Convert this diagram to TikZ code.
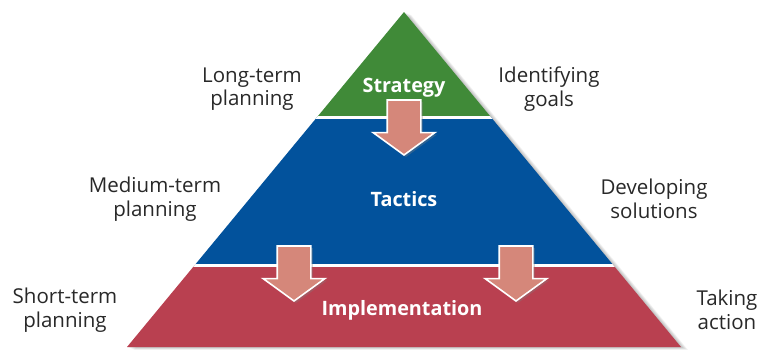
\documentclass[tikz,border=0pt]{standalone}
\usepackage{fontspec}
\setmainfont{Open Sans}
\usepackage{tikz}
\usetikzlibrary{shapes.arrows}
\usetikzlibrary{shadows}
\usetikzlibrary{positioning}
\definecolor{stratgreen}{RGB}{64,138,56}
\definecolor{tacblue}{RGB}{2,82,156}
\definecolor{implred}{RGB}{185,64,80}
\definecolor{arrowsalmon}{RGB}{213,135,122}
\definecolor{labelgray}{RGB}{40,40,40}
\tikzset{x=1pt,y=-1pt,
side text/.style={align=center,text=labelgray,font=\fontsize{20.5}{23.5}\selectfont},
layer text/.style={text=white,font=\bfseries\fontsize{19.8}{22}\selectfont},
down arrow/.style={single arrow,shape border rotate=270,fill=arrowsalmon,draw=white,line width=1.6pt,
  minimum height=55pt,inner xsep=16pt,inner ysep=0pt,single arrow head extend=14pt,single arrow tip angle=108,
  anchor=tip,drop shadow={shadow xshift=2pt,shadow yshift=-2pt,opacity=0.35}}}

\begin{document}
\begin{tikzpicture}
\useasboundingbox (0,0) rectangle (765,349);
\coordinate (apex) at (404,12);
\coordinate (bl) at (127,347);
\coordinate (br) at (681,347);

\foreach \s in {1,...,7}
  \fill[black,opacity=0.04] ([xshift=\s pt,yshift=-0.4*\s pt]apex) -- ([xshift=\s pt,yshift=-0.4*\s pt]bl) -- ([xshift=\s pt,yshift=-0.4*\s pt]br) -- cycle;

\begin{scope}
\clip (apex) -- (bl) -- (br) -- cycle;
\fill[stratgreen] (0,0) rectangle (765,117);
\fill[tacblue] (0,117) rectangle (765,265);
\fill[implred] (0,265) rectangle (765,349);
\draw[white,line width=2.5pt] (0,117.5) -- (765,117.5);
\draw[white,line width=2.5pt] (0,265.5) -- (765,265.5);
\end{scope}

\node (strat) [layer text] at (404,88) {Strategy};
\node (tact) [layer text] at (404,199) {Tactics};
\node (impl) [layer text] at (402,310) {Implementation};

\node (a1) [down arrow] at (404,156) {};
\node (a2) [down arrow] at (294,302) {};
\node (a3) [down arrow] at (516,302) {};

\node (long) [side text] at (252,89) {Long-term\\planning};
\node (ident) [side text] at (549,89) {Identifying\\goals};
\node (medium) [side text] at (155,199) {Medium-term\\planning};
\node (develop) [side text] at (654,199) {Developing\\solutions};
\node (short) [side text] at (65,310) {Short-term\\planning};
\node (taking) [side text] at (727,310) {Taking\\action};
\end{tikzpicture}
\end{document}
